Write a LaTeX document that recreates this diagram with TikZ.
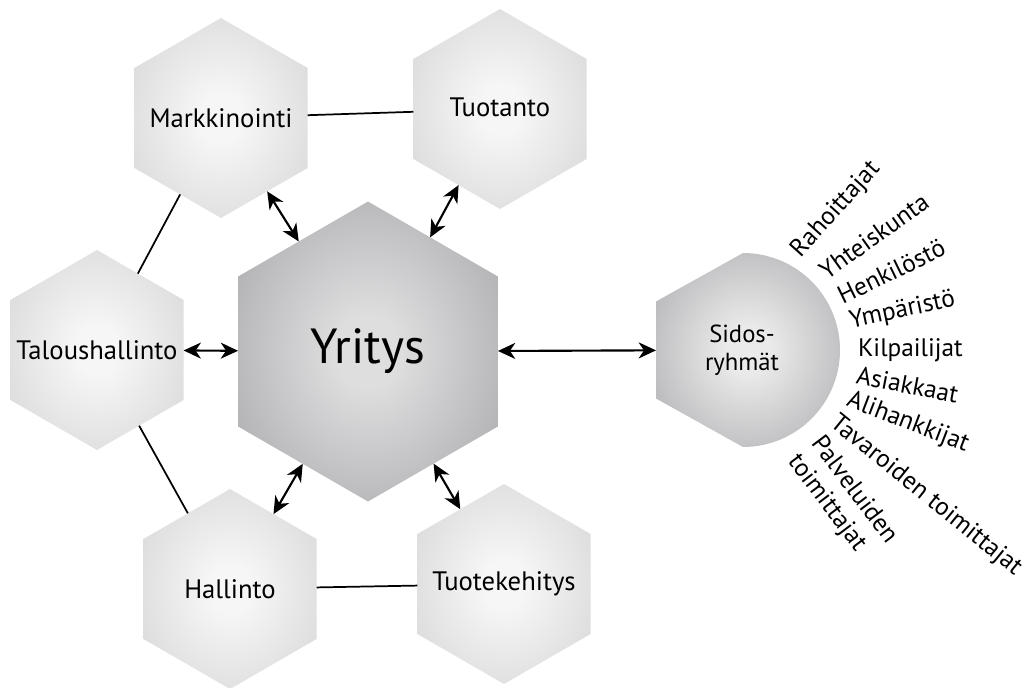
\documentclass[tikz,border=0pt]{standalone}
\usepackage{fontspec}
\setmainfont{PT Sans}
\usetikzlibrary{shapes.geometric,arrows.meta}
\definecolor{lhin}{HTML}{F6F6F6}
\definecolor{lhout}{HTML}{C4C5C7}
\definecolor{yrin}{HTML}{DEDEDF}
\definecolor{yrout}{HTML}{8A8B8F}
\definecolor{sdin}{HTML}{EAEAEA}
\definecolor{sdout}{HTML}{8D8E92}
\pgfdeclareradialshading{lighthex}{\pgfpoint{0bp}{0bp}}{color(0bp)=(lhin); color(6bp)=(lhin); color(50bp)=(lhout); color(72bp)=(lhout)}
\pgfdeclareradialshading{darkhex}{\pgfpoint{0bp}{0bp}}{color(0bp)=(yrin); color(6bp)=(yrin); color(50bp)=(yrout); color(72bp)=(yrout)}
\pgfdeclareradialshading{sidhex}{\pgfpoint{0bp}{0bp}}{color(0bp)=(sdin); color(6bp)=(sdin); color(50bp)=(sdout); color(72bp)=(sdout)}
\begin{document}
\begin{tikzpicture}[x=0.75pt,y=-0.75pt,
  hexa/.style={regular polygon, regular polygon sides=6, shape border rotate=30,
    outer sep=0pt, inner sep=0pt, text=black, font=\fontsize{20}{24}\selectfont},
  smallhex/.style={hexa, minimum size=150pt, shade, shading=lighthex},
  bighex/.style={hexa, minimum size=225pt, shade, shading=darkhex, font=\fontsize{37}{40}\selectfont},
  link/.style={line width=1.3pt, black},
  dblarrow/.style={line width=1.6pt, black,
    {Stealth[length=13pt,width=12pt,inset=4pt]}-{Stealth[length=13pt,width=12pt,inset=4pt]}},
  lbl/.style={anchor=west, inner sep=0pt, outer sep=0pt, font=\fontsize{19}{22}\selectfont}
]
\useasboundingbox (0,0) rectangle (1035,688);

% hexagons
\node[smallhex] (mk) at (221,118) {\makebox[0pt]{Markkinointi}};
\node[smallhex] (tu) at (500,109) {\makebox[0pt]{\raisebox{3pt}{Tuotanto}}};
\node[smallhex] (ta) at (97,350) {\makebox[0pt]{Taloushallinto}};
\node[smallhex] (ha) at (230,589) {\makebox[0pt]{Hallinto}};
\node[smallhex] (tk) at (504,584) {\makebox[0pt]{\raisebox{-2pt}{Tuotekehitys}}};
\node[bighex] (yr) at (368,351.5) {Yritys};

% stakeholder shape
\path[shade, shading=sidhex] (743,253) -- (656,301.5) -- (656,398.5) -- (743,447)
  arc[start angle=90, end angle=-90, radius=97] -- cycle;
\node[minimum width=129pt, minimum height=60pt, inner sep=0pt, outer sep=0pt,
  align=center, font=\fontsize{18.5}{21}\selectfont] (sd) at (742,350) {Sidos-\\ryhmät};

% links
\draw[link] (mk) -- (tu);
\draw[link] (mk) -- (ta);
\draw[link] (ta) -- (ha);
\draw[link] (ha) -- (tk);

% arrows
\draw[dblarrow] (mk) -- (yr);
\draw[dblarrow] (tu) -- (yr);
\draw[dblarrow] (ta) -- (yr);
\draw[dblarrow] (ha) -- (yr);
\draw[dblarrow] (tk) -- (yr);
\draw[dblarrow] (yr) -- (sd);

% stakeholder labels
\node[lbl, rotate=48] (l1) at (796,254) {Rahoittajat};
\node[lbl, rotate=35.5] (l2) at (822,273) {Yhteiskunta};
\node[lbl, rotate=26] (l3) at (839,297) {Henkilöstö};
\node[lbl, rotate=12] (l4) at (850,322) {Ympäristö};
\node[lbl, rotate=0] (l5) at (858,350) {Kilpailijat};
\node[lbl, rotate=-11] (l6) at (857,375) {Asiakkaat};
\node[lbl, rotate=-21] (l7) at (848,400) {Alihankkijat};
\node[lbl, rotate=-39] (l8) at (833,421) {Tavaroiden toimittajat};
\node[lbl, rotate=-53, align=left] (l9) at (804,449) {Palveluiden\\toimittajat};
\end{tikzpicture}
\end{document}
